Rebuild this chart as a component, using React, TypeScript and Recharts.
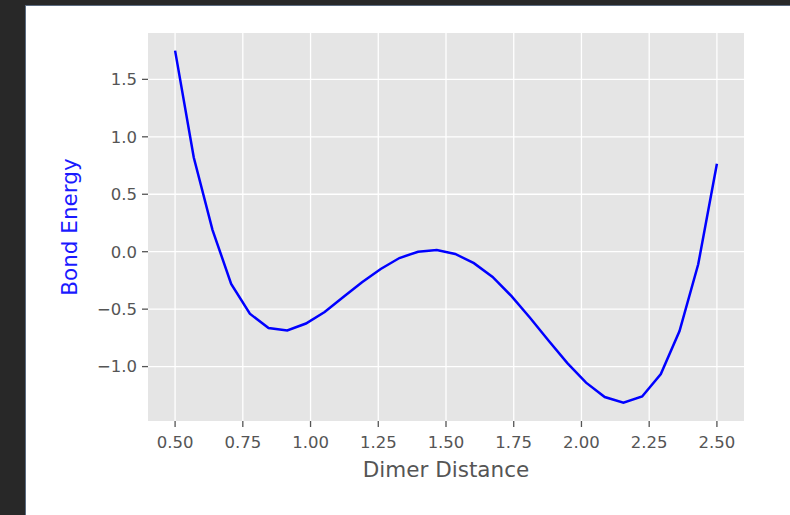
import { LineChart, Line, XAxis, YAxis, CartesianGrid, Label } from "recharts";

// dimer distance samples (30 points from 0.5 to 2.5)
const distances = [
  0.5, 0.569, 0.638, 0.707, 0.776, 0.845, 0.914, 0.983, 1.052, 1.121,
  1.19, 1.259, 1.328, 1.397, 1.466, 1.534, 1.603, 1.672, 1.741, 1.81,
  1.879, 1.948, 2.017, 2.086, 2.155, 2.224, 2.293, 2.362, 2.431, 2.5,
];

// bond energy
const energies = [
  1.75, 0.82, 0.19, -0.28, -0.54, -0.665, -0.685, -0.625, -0.525, -0.395,
  -0.265, -0.15, -0.055, 0.0, 0.015, -0.02, -0.1, -0.22, -0.385, -0.575,
  -0.775, -0.97, -1.14, -1.265, -1.315, -1.26, -1.065, -0.69, -0.11, 0.765,
];

const xTicks = [0.5, 0.75, 1.0, 1.25, 1.5, 1.75, 2.0, 2.25, 2.5];
const yTicks = [-1.0, -0.5, 0.0, 0.5, 1.0, 1.5];

const data = distances.map((d, i) => ({ distance: d, energy: energies[i] }));

const FONT = "'DejaVu Sans', sans-serif";
const TICK_COLOR = "#555555";

const fmtY = (v: number) => (v < 0 ? `\u2212${Math.abs(v).toFixed(1)}` : v.toFixed(1));

export default function App() {
  return (
    <div
      style={{
        position: "absolute",
        left: 0,
        top: 0,
        width: 790,
        height: 515,
        background: "#282828",
        overflow: "hidden",
      }}
    >
      <div
        style={{
          position: "absolute",
          left: 25,
          top: 5,
          width: 765,
          height: 510,
          background: "#ffffff",
          borderLeft: "1px solid #5b6b80",
          borderTop: "1px solid #5b6b80",
          boxSizing: "border-box",
        }}
      />
      <div style={{ position: "absolute", left: 0, top: 0 }}>
        <LineChart
          width={790}
          height={515}
          data={data}
          margin={{ top: 33, right: 46, bottom: 34, left: 40 }}
        >
          <CartesianGrid
            fill="#e5e5e5"
            stroke="#ffffff"
            strokeWidth={1.3}
            horizontalValues={yTicks}
            verticalValues={xTicks}
          />
          <XAxis
            dataKey="distance"
            type="number"
            domain={[0.4, 2.6]}
            ticks={xTicks}
            allowDataOverflow
            height={60}
            axisLine={false}
            tickSize={6}
            tickMargin={9}
            tickLine={{ stroke: TICK_COLOR, strokeWidth: 1.3 }}
            tick={{ fill: TICK_COLOR, fontSize: 16.5, fontFamily: FONT }}
            tickFormatter={(v: number) => v.toFixed(2)}
          >
            <Label
              content={({ viewBox }: any) => (
                <text
                  x={viewBox.x + viewBox.width / 2}
                  y={477}
                  textAnchor="middle"
                  fill={TICK_COLOR}
                  fontSize={21.5}
                  fontFamily={FONT}
                >
                  Dimer Distance
                </text>
              )}
            />
          </XAxis>
          <YAxis
            type="number"
            domain={[-1.4735, 1.9035]}
            ticks={yTicks}
            allowDataOverflow
            width={108}
            axisLine={false}
            tickSize={6}
            tickMargin={5}
            tickLine={{ stroke: TICK_COLOR, strokeWidth: 1.3 }}
            tick={{ fill: TICK_COLOR, fontSize: 16.5, fontFamily: FONT }}
            tickFormatter={fmtY}
          >
            <Label
              content={({ viewBox }: any) => {
                const cx = 69;
                const cy = viewBox.y + viewBox.height / 2;
                return (
                  <text
                    x={cx}
                    y={cy}
                    transform={`rotate(-90 ${cx} ${cy})`}
                    textAnchor="middle"
                    dominantBaseline="central"
                    fill="#1a1aff"
                    fontSize={21.5}
                    fontFamily={FONT}
                  >
                    Bond Energy
                  </text>
                );
              }}
            />
          </YAxis>
          <Line
            type="linear"
            dataKey="energy"
            stroke="#0000ff"
            strokeWidth={2.5}
            dot={false}
            activeDot={false}
            isAnimationActive={false}
          />
        </LineChart>
      </div>
    </div>
  );
}
